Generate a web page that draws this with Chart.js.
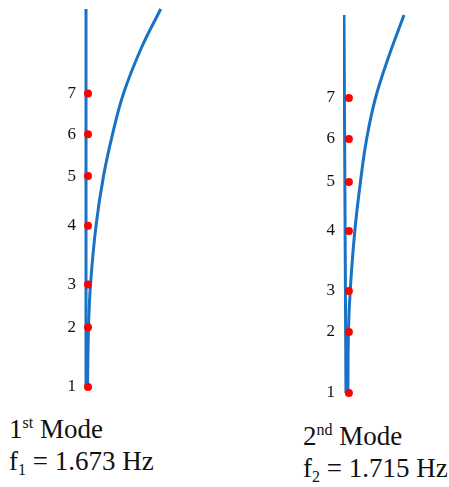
<!DOCTYPE html>
<html>
<head>
<meta charset="utf-8">
<script src="https://cdn.jsdelivr.net/npm/chart.js@4"></script>
<style>
  body { margin: 0; background: #fff; width: 449px; height: 487px; position: relative; overflow: hidden; }
  canvas { position: absolute; top: 0; }
  .cap { position: absolute; font-family: "Liberation Serif", "Times New Roman", serif; font-size: 27px; line-height: 32px; color: #111; white-space: nowrap; }
  .cap sup, .cap sub { font-size: 16px; line-height: 0; }
  .cap sup { vertical-align: 10px; }
  .cap sub { vertical-align: -5px; }
</style>
</head>
<body>
<canvas id="mode1" width="170" height="410" style="left:0px"></canvas>
<canvas id="mode2" width="150" height="416" style="left:260px"></canvas>

<div class="cap" style="left:9px; top:413px">1<sup>st</sup> Mode</div>
<div class="cap" style="left:9px; top:445px">f<sub>1</sub> = 1.673 Hz</div>
<div class="cap" style="left:303px; top:420px">2<sup>nd</sup> Mode</div>
<div class="cap" style="left:303px; top:452px">f<sub>2</sub> = 1.715 Hz</div>

<script>
// floor labels and their heights (same units as the mode shape height)
const floorLabels = ["1", "2", "3", "4", "5", "6", "7"];
const floorHeights1 = [0, 60, 103, 162, 212, 254, 295];
const floorHeights2 = [0, 61, 102, 162, 211, 254, 295];

// undeformed axis of the building
const axis1Heights = [0, 380];
const axis1Disp = [0, 0];
const axis2Heights = [0, 378];
const axis2Disp = [1, -1];

// mode shapes (lateral displacement vs height)
const mode1Heights = [0, 60, 103, 162, 212, 254, 295, 340, 380];
const mode1Disp = [1.5, 2.5, 4.5, 10, 17.5, 26.5, 37.5, 55, 74.7];
const mode2Heights = [0, 61, 102, 162, 211, 254, 295, 338, 378];
const mode2Disp = [3, 3.5, 5.3, 10, 15.7, 22, 31, 45, 60];

// floor markers sit just off the axis
const floorDisp1 = 2;
const floorDisp2 = 4;

const blue = "#1a72c2";
const red = "#ff0000";

function toPoints(xs, ys) {
  return xs.map((x, i) => ({ x: x, y: ys[i] }));
}

function makePanel(id, opts) {
  const ctx = document.getElementById(id).getContext("2d");
  return new Chart(ctx, {
    type: "scatter",
    data: {
      datasets: [
        {
          // floors on top
          data: opts.floors.map((h) => ({ x: opts.floorDisp, y: h })),
          showLine: false,
          pointRadius: 4,
          pointBackgroundColor: red,
          pointBorderWidth: 0,
        },
        {
          data: toPoints(opts.axisDisp, opts.axisHeights),
          showLine: true,
          borderColor: blue,
          borderWidth: 3,
          pointRadius: 0,
        },
        {
          data: toPoints(opts.modeDisp, opts.modeHeights),
          showLine: true,
          tension: 0.4,
          borderColor: blue,
          borderWidth: 3,
          pointRadius: 0,
        },
      ],
    },
    options: {
      responsive: false,
      animation: false,
      layout: { padding: { left: 0, right: opts.padRight, top: opts.padTop, bottom: opts.padBottom } },
      plugins: { legend: { display: false }, tooltip: { enabled: false } },
      scales: {
        x: { type: "linear", display: false, min: -2, max: opts.xMax },
        y: {
          type: "linear",
          min: -5,
          max: 385,
          grid: { display: false, drawTicks: false },
          border: { display: false },
          afterFit: (scale) => {
            scale.width = opts.axisWidth;
            scale.paddingTop = 0;
            scale.paddingBottom = 0;
          },
          afterBuildTicks: (scale) => {
            scale.ticks = opts.floors.map((h) => ({ value: h }));
          },
          ticks: {
            padding: 8,
            color: "#111",
            font: { family: "'Liberation Serif', 'Times New Roman', serif", size: 17 },
            callback: (value) => floorLabels[opts.floors.indexOf(value)],
          },
        },
      },
    },
  });
}

makePanel("mode1", {
  axisDisp: axis1Disp, axisHeights: axis1Heights,
  modeDisp: mode1Disp, modeHeights: mode1Heights,
  floors: floorHeights1, floorDisp: floorDisp1,
  axisWidth: 84, xMax: 78, padRight: 6, padTop: 2, padBottom: 18,
});

makePanel("mode2", {
  axisDisp: axis2Disp, axisHeights: axis2Heights,
  modeDisp: mode2Disp, modeHeights: mode2Heights,
  floors: floorHeights2, floorDisp: floorDisp2,
  axisWidth: 83, xMax: 62, padRight: 3, padTop: 8, padBottom: 18,
});
</script>
</body>
</html>
